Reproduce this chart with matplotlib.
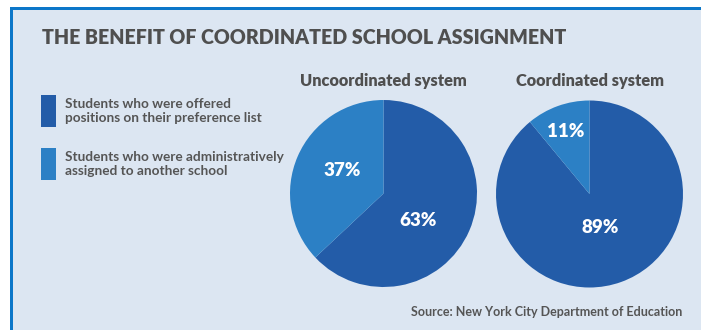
import matplotlib
matplotlib.use("Agg")
import matplotlib.pyplot as plt
import numpy as np
from matplotlib.patches import Rectangle

title = "THE BENEFIT OF COORDINATED SCHOOL ASSIGNMENT"
systems = ["Uncoordinated system", "Coordinated system"]
offered = [63, 89]
assigned = [37, 11]
legend_labels = ["Students who were offered\npositions on their preference list",
                 "Students who were administratively\nassigned to another school"]
source = "Source: New York City Department of Education"

DARK = "#235ca8"
LIGHT = "#2c80c5"
PANEL = "#dce6f2"
BORDER = "#0c77c9"
TXT = "#555555"
FONT = "Lato"

W, H = 701, 330
fig = plt.figure(figsize=(W / 100, H / 100), dpi=100)
fig.patch.set_facecolor("white")

bg = fig.add_axes([0, 0, 1, 1])
bg.set_xlim(0, W)
bg.set_ylim(H, 0)
bg.axis("off")
bg.add_patch(Rectangle((10, 7), W - 10, H - 7, facecolor=BORDER, edgecolor="none"))
bg.add_patch(Rectangle((13, 10), W - 13, H - 10, facecolor=PANEL, edgecolor="none"))

bg.text(42, 38, title, fontsize=14.1, fontweight="heavy", color="#4f4f4f",
        family=FONT, va="center", ha="left")

for i, (lab, col) in enumerate(zip(legend_labels, [DARK, LIGHT])):
    y0 = 95 + i * 53
    bg.add_patch(Rectangle((41, y0), 14.5, 32, facecolor=col, edgecolor="none"))
    bg.text(65, y0 + 16, lab, fontsize=9.8, color=TXT, family=FONT,
            fontweight="bold", va="center", ha="left", linespacing=1.2)

bg.text(682, 312, source, fontsize=9.0, color=TXT, family=FONT,
        fontweight="bold", va="center", ha="right")

centers = [(383.5, 193.5), (589.5, 194)]
R = 93.5
# label placement (polar: angle in degrees, distance in radius units)
label_pos = [((-38.6, 0.47), (150.6, 0.51)), ((-71.8, 0.38), (110.7, 0.72))]
for k, (cx, cy) in enumerate(centers):
    ax = fig.add_axes([(cx - R) / W, (H - cy - R) / H, 2 * R / W, 2 * R / H])
    vals = [offered[k], assigned[k]]
    ax.pie(vals, colors=[DARK, LIGHT], startangle=90, counterclock=False,
           radius=1, wedgeprops=dict(linewidth=0))
    ax.set_xlim(-1, 1)
    ax.set_ylim(-1, 1)
    ax.axis("off")
    for v, (ang, d) in zip(vals, label_pos[k]):
        a = np.deg2rad(ang)
        ax.text(d * np.cos(a), d * np.sin(a), f"{v}%", color="white",
                fontsize=13.5, fontweight="heavy", family=FONT,
                ha="center", va="center")
    bg.text(cx, 81, systems[k], fontsize=11.8, fontweight="heavy", color="#4f4f4f",
            family=FONT, ha="center", va="center")

fig.savefig("out.png", dpi=100, facecolor=fig.get_facecolor())
